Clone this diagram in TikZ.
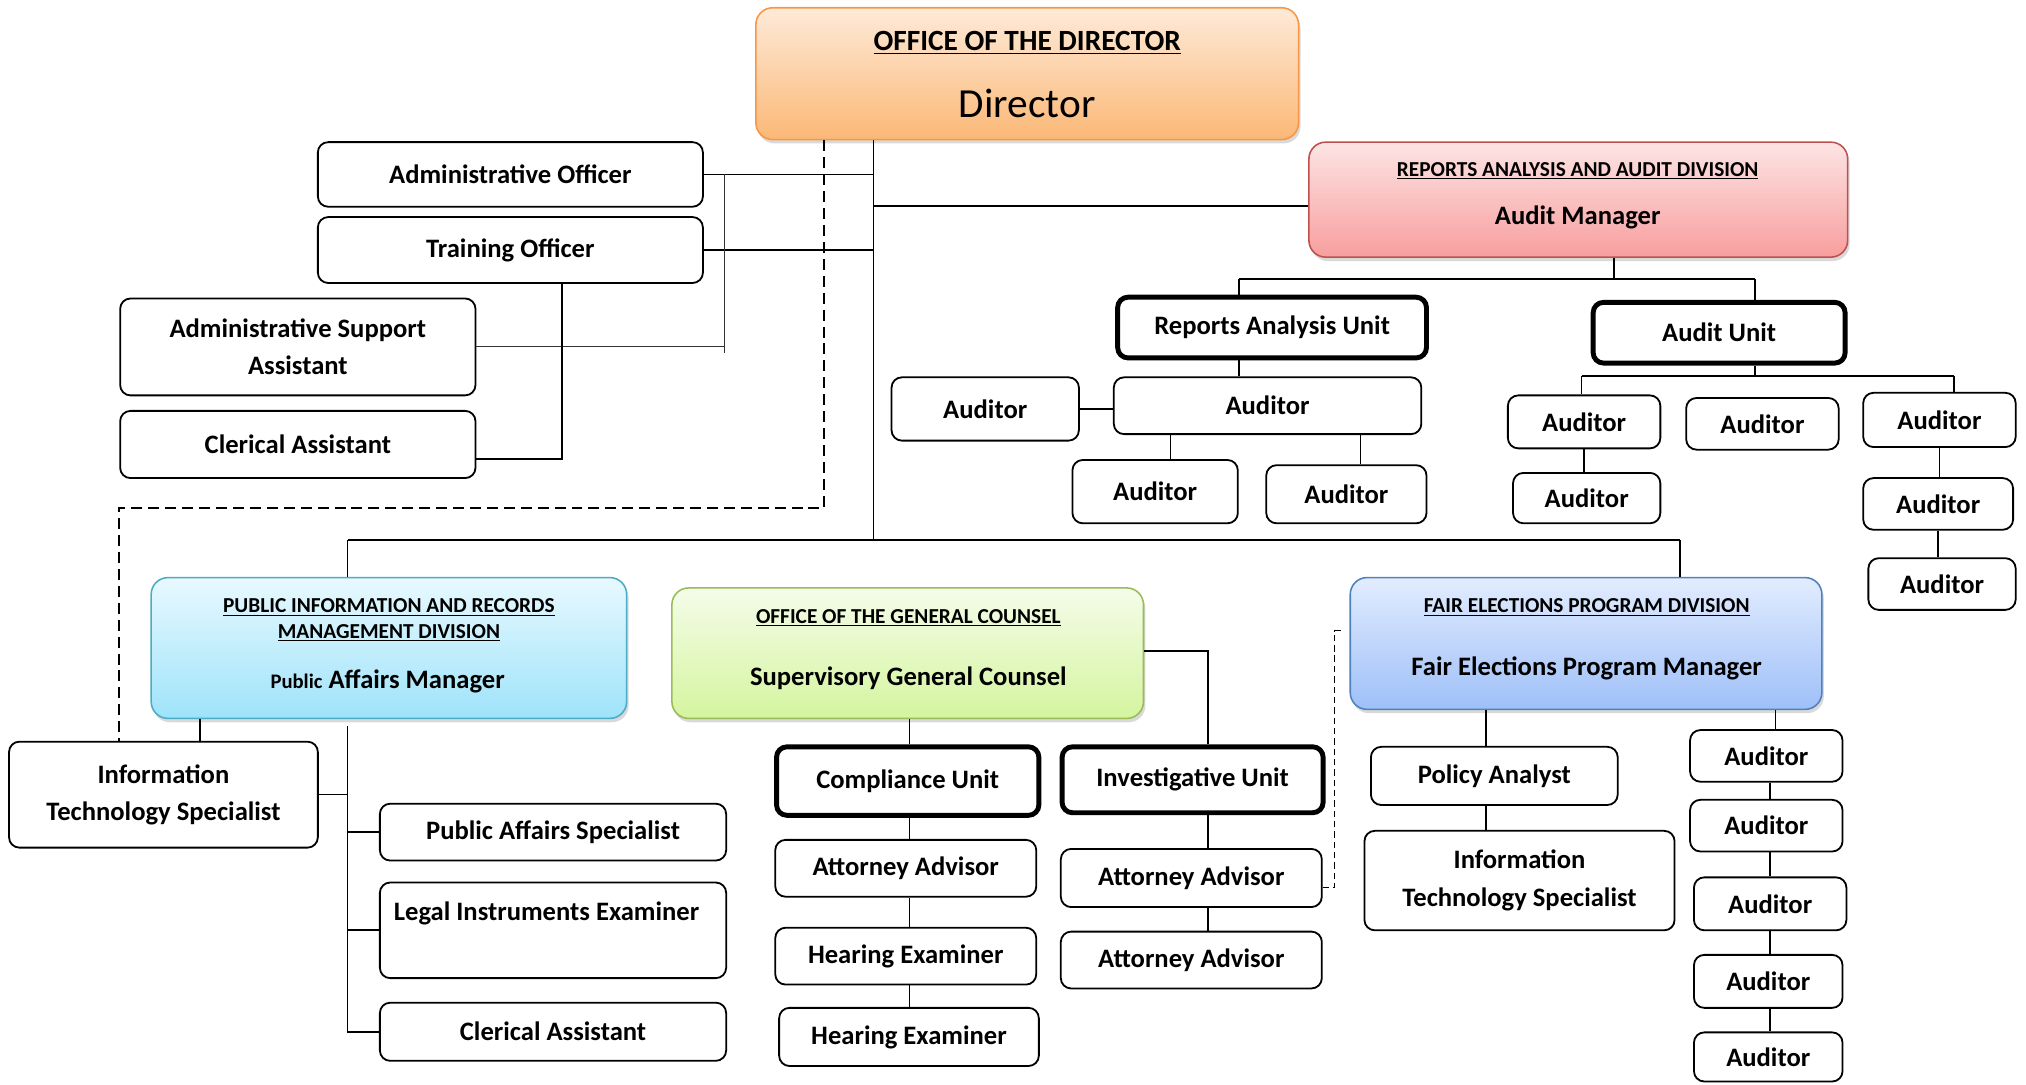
\documentclass[tikz,border=0pt]{standalone}
\usepackage{fontspec}
\setmainfont{Carlito}
\usetikzlibrary{shadows}
\begin{document}
\begin{tikzpicture}[x=1pt,y=-1pt,
  R/.style args={#1/#2/#3/#4}{at={({(#1+#3)/2},{(#2+#4)/2})}, minimum width={(#3-#1)*1pt}, minimum height={(#4-#2)*1pt}},
  box/.style={draw=black, line width=1.4pt, rounded corners=8pt, fill=white, inner sep=0pt, align=center, font=\fontsize{20.6}{29}\selectfont\bfseries},
  unitbox/.style={box, line width=3.8pt},
  div/.style={rounded corners=13pt, line width=1.2pt, inner sep=0pt, drop shadow={opacity=0.3, shadow xshift=1.5pt, shadow yshift=-3pt}},
  ttl/.style={font=\fontsize{16.5}{20}\selectfont\bfseries, inner sep=0pt},
  nm/.style={font=\fontsize{20.6}{24}\selectfont\bfseries, inner sep=0pt},
  ln/.style={line width=1.3pt},
  thinln/.style={line width=0.8pt, black!80},
  dsh/.style={line width=1.4pt, dash pattern=on 8.5pt off 4.6pt},
  dshb/.style={line width=1pt, dash pattern=on 5pt off 3pt}
]
\useasboundingbox (0,0) rectangle (1568,839);

% ---------- colours ----------
\definecolor{dirTop}{RGB}{254,234,216}\definecolor{dirBot}{RGB}{251,184,118}\definecolor{dirLn}{RGB}{247,150,70}
\definecolor{radTop}{RGB}{253,228,228}\definecolor{radBot}{RGB}{248,158,158}\definecolor{radLn}{RGB}{192,80,77}
\definecolor{pirTop}{RGB}{232,249,255}\definecolor{pirBot}{RGB}{158,227,250}\definecolor{pirLn}{RGB}{75,172,198}
\definecolor{ogcTop}{RGB}{245,252,234}\definecolor{ogcBot}{RGB}{212,245,158}\definecolor{ogcLn}{RGB}{155,187,89}
\definecolor{fepTop}{RGB}{226,236,255}\definecolor{fepBot}{RGB}{158,192,248}\definecolor{fepLn}{RGB}{79,129,189}

% ---------- division boxes ----------
\node[div, draw=dirLn, top color=dirTop, bottom color=dirBot, R=585/6/1005/108] (dir) {};
\node[inner sep=0pt, font=\fontsize{22.7}{26}\selectfont\bfseries] (dirT) at (795,33) {\underline{OFFICE OF THE DIRECTOR}};
\node[inner sep=0pt, font=\fontsize{32}{36}\selectfont] (dirN) at (795,80) {Director};

\node[div, draw=radLn, top color=radTop, bottom color=radBot, R=1013/110/1430/199] (radd) {};
\node[ttl] (raddT) at (1221,132) {\underline{REPORTS ANALYSIS AND AUDIT DIVISION}};
\node[nm] (raddN) at (1221,168) {Audit Manager};

\node[div, draw=pirLn, top color=pirTop, bottom color=pirBot, R=117/447/485/556] (pirm) {};
\node[ttl] (pirmT1) at (301,470) {\underline{PUBLIC INFORMATION AND RECORDS}};
\node[ttl] (pirmT2) at (301,490) {\underline{MANAGEMENT DIVISION}};
\node[nm] (pirmN) at (300,527) {{\fontsize{16}{20}\selectfont Public} Affairs Manager};

\node[div, draw=ogcLn, top color=ogcTop, bottom color=ogcBot, R=520/455/885/556] (ogc) {};
\node[ttl] (ogcT) at (703,478) {\underline{OFFICE OF THE GENERAL COUNSEL}};
\node[nm] (ogcN) at (703,525) {Supervisory General Counsel};

\node[div, draw=fepLn, top color=fepTop, bottom color=fepBot, R=1045/447/1410/549] (fepd) {};
\node[ttl] (fepdT) at (1228,470) {\underline{FAIR ELECTIONS PROGRAM DIVISION}};
\node[nm] (fepdN) at (1228,517) {Fair Elections Program Manager};

% ---------- director staff ----------
\node[box, R=246/110/544/160] (ao) {Administrative Officer};
\node[box, R=246/168/544/219] (to) {Training Officer};
\node[box, R=93/231/368/306] (asa) {Administrative Support\\Assistant};
\node[box, R=93/318/368/370] (ca1) {Clerical Assistant};

% ---------- reports analysis & audit ----------
\node[unitbox, R=865/230/1104/277] (rau) {Reports Analysis Unit};
\node[unitbox, R=1233/234/1428/281] (au) {Audit Unit};
\node[box, R=690/292/835/341] (ra1) {Auditor};
\node[box, R=862/292/1100/336] (ra2) {Auditor};
\node[box, R=830/356/958/405] (ra3) {Auditor};
\node[box, R=980/360/1104/405] (ra4) {Auditor};
\node[box, R=1167/306/1285/347] (au1) {Auditor};
\node[box, R=1305/308/1423/348] (au2) {Auditor};
\node[box, R=1442/304/1560/346] (au3) {Auditor};
\node[box, R=1171/366/1285/405] (au4) {Auditor};
\node[box, R=1442/370/1558/410] (au5) {Auditor};
\node[box, R=1446/432/1560/472] (au6) {Auditor};

% ---------- public information ----------
\node[box, R=7/574/246/656] (its1) {Information\\Technology Specialist};
\node[box, R=294/622/562/666] (pas) {Public Affairs Specialist};
\node[box, R=294/683/562/757] (lie) {};
\node[inner sep=0pt, font=\fontsize{20.6}{24}\selectfont\bfseries] (lieT) at (423,707) {Legal Instruments Examiner};
\node[box, R=294/776/562/821] (ca2) {Clerical Assistant};

% ---------- general counsel ----------
\node[unitbox, R=601/578/804/631] (cu) {Compliance Unit};
\node[box, R=600/650/802/694] (aa1) {Attorney Advisor};
\node[box, R=600/718/802/762] (he1) {Hearing Examiner};
\node[box, R=603/780/804/825] (he2) {Hearing Examiner};
\node[unitbox, R=822/578/1024/629] (iu) {Investigative Unit};
\node[box, R=821/657/1023/702] (aa2) {Attorney Advisor};
\node[box, R=821/721/1023/765] (aa3) {Attorney Advisor};

% ---------- fair elections ----------
\node[box, R=1061/578/1252/623] (pa) {Policy Analyst};
\node[box, R=1056/643/1296/720] (its2) {Information\\Technology Specialist};
\node[box, R=1308/565/1426/605] (fa1) {Auditor};
\node[box, R=1308/619/1426/659] (fa2) {Auditor};
\node[box, R=1311/679/1429/720] (fa3) {Auditor};
\node[box, R=1311/739/1426/780] (fa4) {Auditor};
\node[box, R=1311/799/1426/837] (fa5) {Auditor};

% ---------- helper coordinates ----------
\coordinate (bus) at (676,418);
\coordinate (bL) at (269,418);
\coordinate (bR) at (1300,418);
\coordinate (k1) at (561,273);
\coordinate (k2) at (435,355);
\coordinate (d1) at (638,393);
\coordinate (d2) at (92,393);
\coordinate (r1) at (1249,216);
\coordinate (r1L) at (959,216);
\coordinate (r1R) at (1358,216);
\coordinate (x906) at (906,0);
\coordinate (x1053) at (1053,0);
\coordinate (a1) at (1358,291);
\coordinate (aL) at (1224,291);
\coordinate (aR) at (1512,291);
\coordinate (x155) at (155,0);
\coordinate (p1) at (269,562);
\coordinate (x704) at (704,0);
\coordinate (o1) at (935,504);
\coordinate (f1) at (1033,687);
\coordinate (f2) at (1033,488);
\coordinate (f3) at (1040,488);
\coordinate (x1150) at (1150,0);
\coordinate (x1374) at (1374,0);
\coordinate (x1370) at (1370,0);

% ---------- connectors ----------
\draw[ln] (dir.south -| bus) -- (bus);
\draw[ln] (ao.east) -- (ao.east -| bus);
\draw[ln] (to.east) -- (to.east -| bus);
\draw[ln] ([yshift=-5pt]radd.west) -- ([yshift=-5pt]radd.west -| bus);
\draw[thinln] (ao.east -| k1) -- (k1);
\draw[thinln] (asa.east) -- (asa.east -| k1);
\draw[ln] (to.south -| k2) -- (k2) -- (k2 -| ca1.east);
\draw[dsh] (dir.south -| d1) -- (d1) -- (d2) -- (d2 |- its1.north);
\draw[ln] (bL) -- (bR);
\draw[ln] (bL) -- (bL |- pirm.north);
\draw[ln] (bR) -- (bR |- fepd.north);

\draw[ln] (radd.south -| r1) -- (r1);
\draw[ln] (r1L) -- (r1R);
\draw[ln] (r1L) -- (r1L |- rau.north);
\draw[ln] (r1R) -- (r1R |- au.north);
\draw[ln] (rau.south -| r1L) -- (ra2.north -| r1L);
\draw[ln] (ra1.east) -- (ra1.east -| ra2.west);
\draw[ln] (ra2.south -| x906) -- (ra3.north -| x906);
\draw[ln] (ra2.south -| x1053) -- (ra4.north -| x1053);
\draw[ln] (au.south -| a1) -- (a1);
\draw[ln] (aL) -- (aR);
\draw[ln] (aL) -- (aL |- au1.north);
\draw[ln] (aR) -- (aR |- au3.north);
\draw[ln] (au1.south) -- (au1.south |- au4.north);
\draw[ln] (au3.south) -- (au3.south |- au5.north);
\draw[ln] (au5.south) -- (au5.south |- au6.north);

\draw[ln] (pirm.south -| x155) -- (its1.north -| x155);
\draw[ln] (p1) -- (p1 |- ca2.west) -- (ca2.west);
\draw[ln] (its1.east) -- (its1.east -| p1);
\draw[ln] (pas.west) -- (pas.west -| p1);
\draw[ln] (lie.west) -- (lie.west -| p1);

\draw[ln] (ogc.south -| x704) -- (cu.north -| x704);
\draw[ln] (cu.south -| x704) -- (aa1.north -| x704);
\draw[ln] (aa1.south -| x704) -- (he1.north -| x704);
\draw[ln] (he1.south -| x704) -- (he2.north -| x704);
\draw[ln] (ogc.east |- o1) -- (o1) -- (o1 |- iu.north);
\draw[ln] (iu.south -| o1) -- (aa2.north -| o1);
\draw[ln] (aa2.south -| o1) -- (aa3.north -| o1);
\draw[dshb] (aa2.east |- f1) -- (f1) -- (f2) -- (f3);

\draw[ln] (fepd.south -| x1150) -- (pa.north -| x1150);
\draw[ln] (pa.south -| x1150) -- (its2.north -| x1150);
\draw[ln] (fepd.south -| x1374) -- (fa1.north -| x1374);
\draw[ln] (fa1.south -| x1370) -- (fa2.north -| x1370);
\draw[ln] (fa2.south -| x1370) -- (fa3.north -| x1370);
\draw[ln] (fa3.south -| x1370) -- (fa4.north -| x1370);
\draw[ln] (fa4.south -| x1370) -- (fa5.north -| x1370);
\end{tikzpicture}
\end{document}
